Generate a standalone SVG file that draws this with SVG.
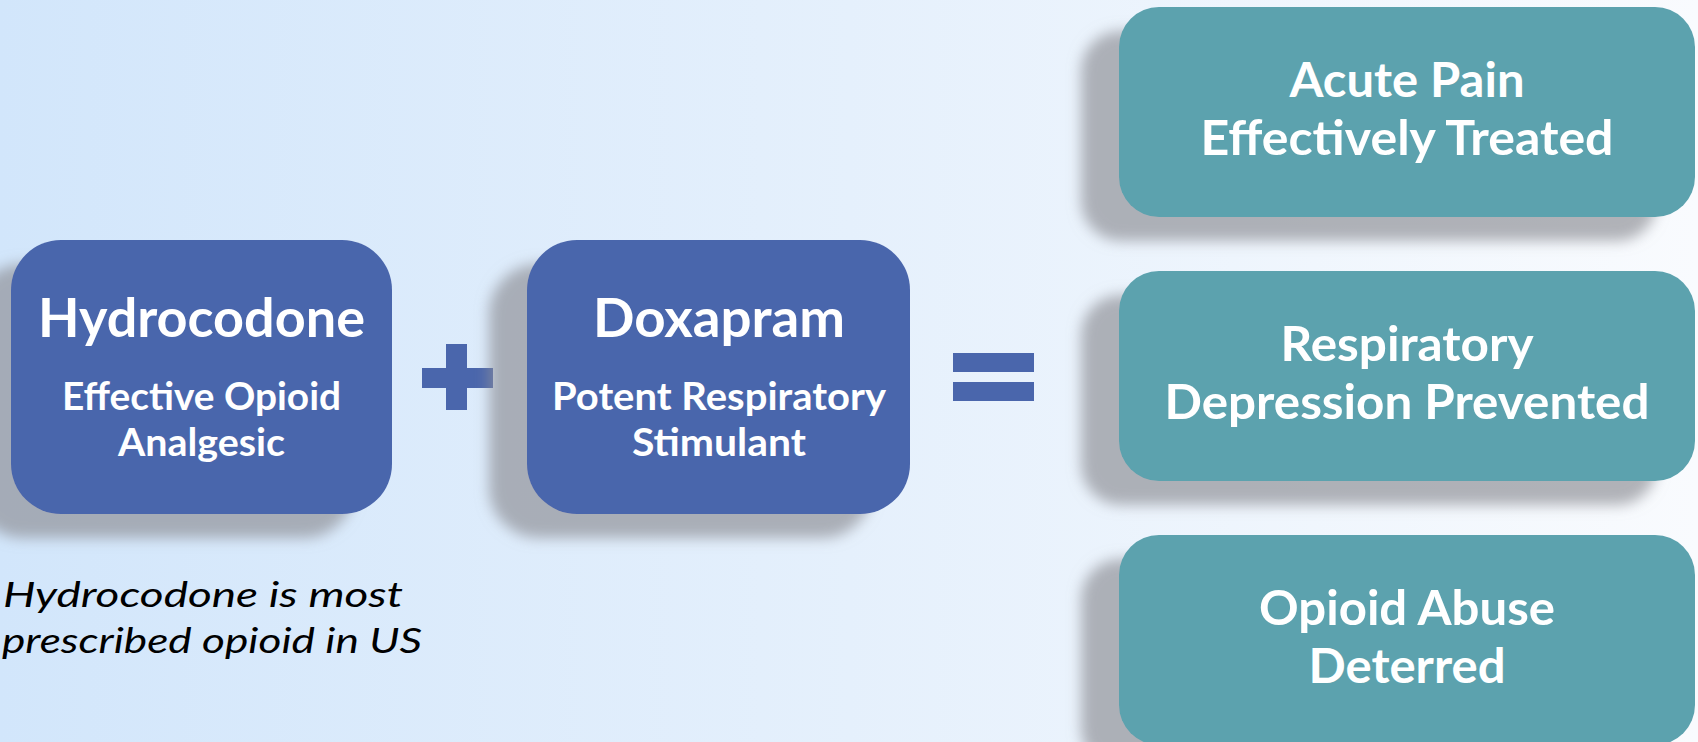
<svg xmlns="http://www.w3.org/2000/svg" width="1698" height="742" viewBox="0 0 1698 742">
<defs>
<linearGradient id="bg" x1="0" y1="0" x2="1" y2="0">
<stop offset="0" stop-color="#D2E6FB"/>
<stop offset="0.5" stop-color="#E5F0FC"/>
<stop offset="1" stop-color="#F9FBFE"/>
</linearGradient>
<filter id="sh" x="-25%" y="-20%" width="150%" height="160%">
<feDropShadow dx="-38" dy="24" stdDeviation="7" flood-color="#8E9096" flood-opacity="0.68"/>
</filter>
<style>
.blue{fill:#4A66AC;filter:url(#sh)}
.teal{fill:#5BA2AE;filter:url(#sh)}
.op{fill:#4A66AC}
text{font-family:Lato,"Open Sans","Liberation Sans",sans-serif;fill:#FFFFFF;font-weight:bold;text-anchor:middle}
.t1{font-size:54px}
.t2{font-size:39px}
.t3{font-size:47px}
.note{font-size:34px;font-style:italic;font-weight:normal;fill:#000000;text-anchor:start}
</style>
</defs>
<rect x="0" y="0" width="1698" height="742" fill="url(#bg)"/>
<g id="connectors">
<g id="op-plus">
<rect class="op" x="422" y="368" width="71" height="20"/>
<rect class="op" x="446" y="344" width="21" height="66"/>
</g>
<g id="op-equals">
<rect class="op" x="953" y="353" width="81" height="19"/>
<rect class="op" x="953" y="382" width="81" height="19"/>
</g>
</g>
<g id="node-hydrocodone">
<rect class="blue" x="11" y="240" width="381" height="274" rx="50"/>
<text class="t1" x="201.5" y="337" textLength="327" lengthAdjust="spacingAndGlyphs">Hydrocodone</text>
<text class="t2" x="201.5" y="410" textLength="279" lengthAdjust="spacingAndGlyphs">Effective Opioid</text>
<text class="t2" x="201.5" y="456" textLength="167" lengthAdjust="spacingAndGlyphs">Analgesic</text>
</g>
<g id="node-doxapram">
<rect class="blue" x="527" y="240" width="383" height="274" rx="50"/>
<text class="t1" x="719" y="337" textLength="252" lengthAdjust="spacingAndGlyphs">Doxapram</text>
<text class="t2" x="719" y="410" textLength="334" lengthAdjust="spacingAndGlyphs">Potent Respiratory</text>
<text class="t2" x="719" y="456" textLength="174" lengthAdjust="spacingAndGlyphs">Stimulant</text>
</g>
<g id="node-pain">
<rect class="teal" x="1119" y="7" width="576" height="210" rx="40"/>
<text class="t3" x="1407" y="97" textLength="235" lengthAdjust="spacingAndGlyphs">Acute Pain</text>
<text class="t3" x="1407" y="155" textLength="413" lengthAdjust="spacingAndGlyphs">Effectively Treated</text>
</g>
<g id="node-resp">
<rect class="teal" x="1119" y="271" width="576" height="210" rx="40"/>
<text class="t3" x="1407" y="361" textLength="253" lengthAdjust="spacingAndGlyphs">Respiratory</text>
<text class="t3" x="1407" y="419" textLength="485" lengthAdjust="spacingAndGlyphs">Depression Prevented</text>
</g>
<g id="node-abuse">
<rect class="teal" x="1119" y="535" width="576" height="210" rx="40"/>
<text class="t3" x="1407" y="625" textLength="296" lengthAdjust="spacingAndGlyphs">Opioid Abuse</text>
<text class="t3" x="1407" y="683" textLength="197" lengthAdjust="spacingAndGlyphs">Deterred</text>
</g>
<g id="note">
<text class="note" x="3" y="607" textLength="400" lengthAdjust="spacingAndGlyphs">Hydrocodone is most</text>
<text class="note" x="2" y="653" textLength="420" lengthAdjust="spacingAndGlyphs">prescribed opioid in US</text>
</g>
</svg>
